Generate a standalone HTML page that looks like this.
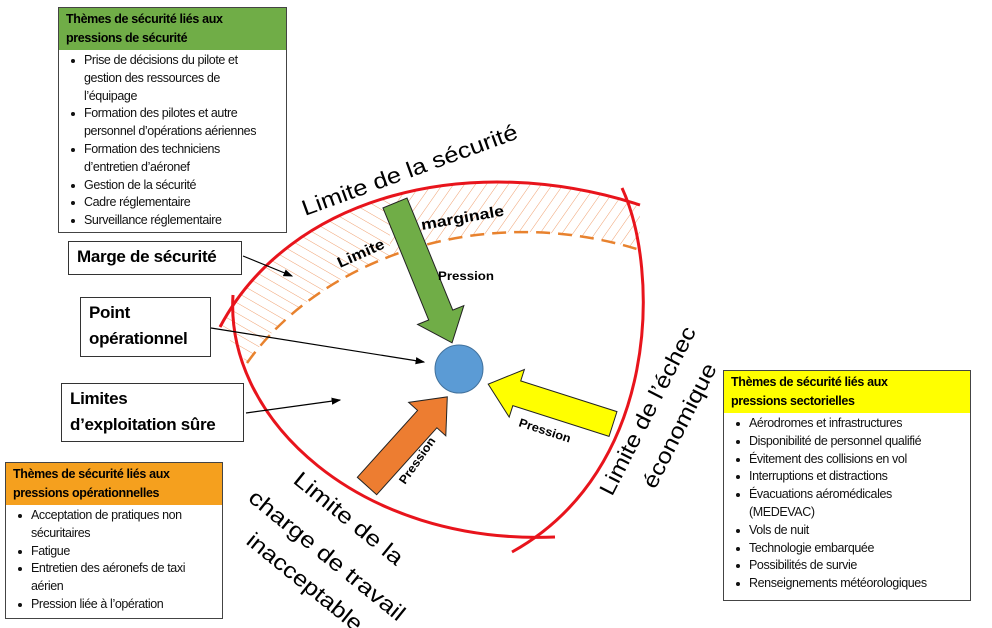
<!DOCTYPE html>
<html><head><meta charset="utf-8"><style>
body{margin:0;width:992px;height:628px;background:#fff;position:relative;overflow:hidden;font-family:"Liberation Sans",sans-serif}
.box{position:absolute;border:1.5px solid #444;background:#fff;box-sizing:border-box}
.hd{font-weight:bold;font-size:12.5px;line-height:19px;padding:2px 7px 2px 7px;color:#000;white-space:nowrap;letter-spacing:-0.35px}
.ls{padding:2px 0 0 10px;font-size:12.5px;line-height:17.8px;color:#111;white-space:nowrap;letter-spacing:-0.4px}
.ls div{position:relative;padding-left:15px}
.ls div.b:before{content:"";position:absolute;left:2px;top:7px;width:4px;height:4px;border-radius:50%;background:#111}
.lbl{position:absolute;border:1.5px solid #333;background:#fff;box-sizing:border-box;font-weight:bold;font-size:17px;line-height:26px;padding:2px 8px;color:#000;white-space:nowrap;letter-spacing:-0.3px}
svg{position:absolute;left:0;top:0}
</style></head><body>
<svg width="992" height="628" viewBox="0 0 992 628">
<defs>
<pattern id="h1" width="9" height="9" patternUnits="userSpaceOnUse" patternTransform="rotate(35)"><line x1="0" y1="0" x2="0" y2="9" stroke="#f0a070" stroke-width="1"/></pattern>
<pattern id="h2" width="9" height="9" patternUnits="userSpaceOnUse" patternTransform="rotate(-60)"><line x1="0" y1="0" x2="0" y2="9" stroke="#f0a070" stroke-width="1"/></pattern>
<clipPath id="band"><path d="M220,327 C290,195 470,150 640,205 L640,250 C480,200 320,260 247,363 Z"/></clipPath>
<marker id="ar" markerWidth="8" markerHeight="8" refX="7" refY="4" orient="auto"><path d="M0,1 L8,4 L0,7 z" fill="#000"/></marker>
</defs>
<g clip-path="url(#band)">
<rect x="200" y="150" width="190" height="230" fill="url(#h2)"/>
<rect x="390" y="150" width="260" height="230" fill="url(#h1)"/>
</g>
<path d="M247,363 C320,260 480,200 640,250" fill="none" stroke="#e8822e" stroke-width="2.5" stroke-dasharray="14,8"/>
<path d="M220,327 C290,195 470,150 640,205" fill="none" stroke="#e8141c" stroke-width="3"/>
<path d="M233,295 C225,420 360,545 555,537" fill="none" stroke="#e8141c" stroke-width="3"/>
<path d="M622,188 C660,270 660,470 512,552" fill="none" stroke="#e8141c" stroke-width="3"/>
<line x1="243" y1="256" x2="292" y2="276" stroke="#000" stroke-width="1.2" marker-end="url(#ar)"/>
<line x1="211" y1="328" x2="424" y2="362" stroke="#000" stroke-width="1.2" marker-end="url(#ar)"/>
<line x1="246" y1="413" x2="340" y2="400" stroke="#000" stroke-width="1.2" marker-end="url(#ar)"/>
<circle cx="459" cy="369" r="24" fill="#5b9bd5" stroke="#41719c" stroke-width="1"/>
<g transform="translate(395,203) rotate(67.8)">
<polygon points="0,-13 121,-13 121,-25 151,0 121,25 121,13 0,13" fill="#70ad47" stroke="#222" stroke-width="1"/>
</g>
<g transform="translate(613,424) rotate(197.7)">
<polygon points="0,-13 101,-13 101,-25 131,0 101,25 101,13 0,13" fill="#ffff00" stroke="#222" stroke-width="1"/>
</g>
<g transform="translate(367,486) rotate(-48)">
<polygon points="0,-13 90,-13 90,-25 120,0 90,25 90,13 0,13" fill="#ed7d31" stroke="#222" stroke-width="1"/>
</g>
<g font-family="Liberation Sans, sans-serif" fill="#000">
<text x="305" y="216" font-size="22" transform="rotate(-20 305 216)" textLength="228" lengthAdjust="spacingAndGlyphs">Limite de la sécurité</text>
<text x="612" y="497" font-size="22" transform="rotate(-63 612 497)" textLength="186" lengthAdjust="spacingAndGlyphs">Limite de l’échec</text>
<text x="655" y="490" font-size="22" transform="rotate(-63 655 490)" textLength="137" lengthAdjust="spacingAndGlyphs">économique</text>
<text x="292" y="482" font-size="22" transform="rotate(39 292 482)" textLength="134" lengthAdjust="spacingAndGlyphs">Limite de la</text>
<text x="247" y="500" font-size="22" transform="rotate(39 247 500)" textLength="194" lengthAdjust="spacingAndGlyphs">charge de travail</text>
<text x="245" y="543" font-size="22" transform="rotate(39 245 543)" textLength="142" lengthAdjust="spacingAndGlyphs">inacceptable</text>
<text x="340" y="268" font-size="15" font-weight="bold" transform="rotate(-24 340 268)" textLength="50" lengthAdjust="spacingAndGlyphs">Limite</text>
<text x="422" y="230" font-size="15" font-weight="bold" transform="rotate(-10 422 230)" textLength="84" lengthAdjust="spacingAndGlyphs">marginale</text>
<text x="438" y="280" font-size="12" font-weight="bold" textLength="56" lengthAdjust="spacingAndGlyphs">Pression</text>
<text x="518" y="426" font-size="12" font-weight="bold" transform="rotate(18 518 426)" textLength="54" lengthAdjust="spacingAndGlyphs">Pression</text>
<text x="405" y="485" font-size="12" font-weight="bold" transform="rotate(-55 405 485)" textLength="54" lengthAdjust="spacingAndGlyphs">Pression</text>
</g>
</svg>

<div class="box" style="left:58px;top:7px;width:229px;height:226px">
<div class="hd" style="background:#70ad47">Thèmes de sécurité liés aux<br>pressions de sécurité</div>
<div class="ls">
<div class="b">Prise de décisions du pilote et</div>
<div>gestion des ressources de</div>
<div>l’équipage</div>
<div class="b">Formation des pilotes et autre</div>
<div>personnel d’opérations aériennes</div>
<div class="b">Formation des techniciens</div>
<div>d’entretien d’aéronef</div>
<div class="b">Gestion de la sécurité</div>
<div class="b">Cadre réglementaire</div>
<div class="b">Surveillance réglementaire</div>
</div></div>

<div class="lbl" style="left:68px;top:241px;width:174px;height:34px">Marge de sécurité</div>
<div class="lbl" style="left:80px;top:297px;width:131px;height:60px">Point<br>opérationnel</div>
<div class="lbl" style="left:61px;top:383px;width:183px;height:59px">Limites<br>d’exploitation sûre</div>

<div class="box" style="left:5px;top:462px;width:218px;height:157px">
<div class="hd" style="background:#f5a01e">Thèmes de sécurité liés aux<br>pressions opérationnelles</div>
<div class="ls">
<div class="b">Acceptation de pratiques non</div>
<div>sécuritaires</div>
<div class="b">Fatigue</div>
<div class="b">Entretien des aéronefs de taxi</div>
<div>aérien</div>
<div class="b">Pression liée à l’opération</div>
</div></div>

<div class="box" style="left:723px;top:370px;width:248px;height:231px">
<div class="hd" style="background:#ffff00">Thèmes de sécurité liés aux<br>pressions sectorielles</div>
<div class="ls">
<div class="b">Aérodromes et infrastructures</div>
<div class="b">Disponibilité de personnel qualifié</div>
<div class="b">Évitement des collisions en vol</div>
<div class="b">Interruptions et distractions</div>
<div class="b">Évacuations aéromédicales</div>
<div>(MEDEVAC)</div>
<div class="b">Vols de nuit</div>
<div class="b">Technologie embarquée</div>
<div class="b">Possibilités de survie</div>
<div class="b">Renseignements météorologiques</div>
</div></div>
</body></html>
